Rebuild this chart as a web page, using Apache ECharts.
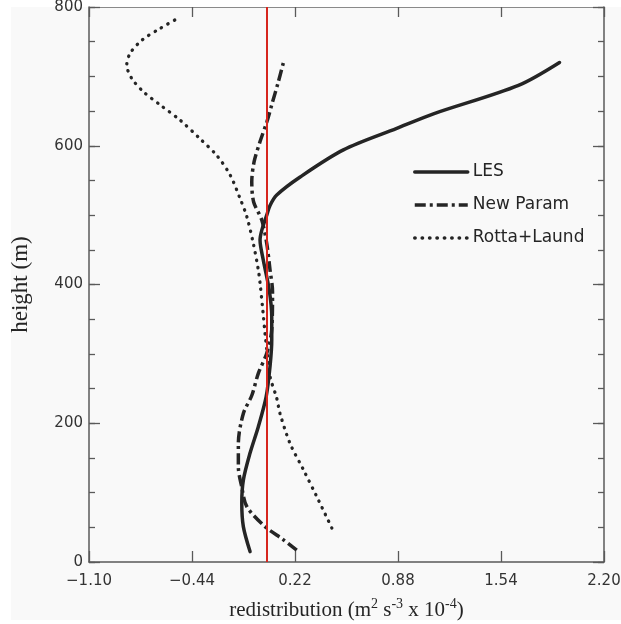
<!DOCTYPE html>
<html>
<head>
<meta charset="utf-8">
<script src="https://cdn.jsdelivr.net/npm/echarts@6/dist/echarts.min.js"></script>
<style>
  html, body { margin: 0; padding: 0; background: #ffffff; }
  #chart { width: 621px; height: 624px; }
</style>
</head>
<body>
<div id="chart"></div>
<script>
// Pressure redistribution profiles (x: m^2 s^-3 x 10^-4, y: height in m)
const heightLES = [15, 51, 85, 118, 157, 195, 238, 282, 320, 353, 392, 435, 464, 478, 500, 514, 529, 555, 594, 625, 646, 687, 720];
const valueLES  = [-0.068, -0.111, -0.121, -0.111, -0.068, -0.015, 0.035, 0.060, 0.071, 0.071, 0.055, 0.017, -0.004, 0.007, 0.039, 0.060, 0.103, 0.253, 0.530, 0.872, 1.107, 1.652, 1.915];

const heightNew = [17, 32, 51, 80, 108, 137, 171, 214, 240, 272, 301, 335, 390, 421, 459, 493, 519, 548, 577, 606, 634, 659, 692, 720];
const valueNew  = [0.231, 0.146, 0.028, -0.089, -0.121, -0.143, -0.143, -0.111, -0.057, -0.015, 0.039, 0.071, 0.076, 0.060, 0.039, 0.007, -0.045, -0.057, -0.042, -0.004, 0.039, 0.071, 0.113, 0.146];

const heightRotta = [49, 94, 133, 171, 214, 236, 267, 296, 325, 360, 402, 421, 459, 498, 524, 558, 586, 610, 637, 659, 678, 697, 716, 733, 752, 769, 784];
const valueRotta  = [0.456, 0.360, 0.274, 0.188, 0.124, 0.103, 0.060, 0.045, 0.030, 0.015, -0.004, -0.015, -0.047, -0.089, -0.132, -0.196, -0.281, -0.388, -0.517, -0.645, -0.752, -0.826, -0.858, -0.837, -0.762, -0.645, -0.528];

const seriesNames = ['LES', 'New Param', 'Rotta+Laund'];
const xTicks = [-1.10, -0.44, 0.22, 0.88, 1.54, 2.20];
const xRange = [-1.10, 2.20];
const yRange = [0, 800];
const yStep = 200;
const yMinorStep = 50;
const refLine = 0.035;

const pairs = (xs, hs) => xs.map((v, i) => [v, hs[i]]);
const fmtX = v => (v < 0 ? '\u2212' : '') + Math.abs(v).toFixed(2);

const ink = '#252525';
const frame = '#5a5a5a';
const sans = 'DejaVu Sans';
const serif = 'Liberation Serif';

const chart = echarts.init(document.getElementById('chart'), null, { renderer: 'canvas' });

// one height axis per side with long ticks + labels, plus a tick-only axis for the 50 m marks
function heightAxis(side, major) {
  return {
    type: 'value', position: side,
    min: yRange[0], max: yRange[1], interval: major ? yStep : yMinorStep,
    axisLine: { show: major, onZero: false, lineStyle: { color: frame, width: 1.5 } },
    axisTick: { show: true, inside: true, length: major ? 11 : 6, lineStyle: { color: frame, width: 1.3 } },
    axisLabel: { show: major && side === 'left', margin: 6, fontFamily: sans, fontSize: 15, color: '#333' },
    splitLine: { show: false }
  };
}

const leftMain = Object.assign(heightAxis('left', true), {
  name: 'height (m)', nameLocation: 'middle', nameGap: 57, nameRotate: 90,
  nameTextStyle: { fontFamily: serif, fontSize: 23, color: ink }
});

chart.setOption({
  backgroundColor: '#ffffff',
  animation: false,
  graphic: [{
    type: 'rect', z: -10, silent: true,
    shape: { x: 11, y: 7, width: 610, height: 613 },
    style: { fill: '#f9f9f9' }
  }],
  grid: { left: 89, right: 17, top: 7, bottom: 62, containLabel: false, outerBoundsMode: 'none' },
  legend: {
    data: seriesNames,
    orient: 'vertical',
    left: 413, top: 163,
    padding: 0,
    itemWidth: 53, itemHeight: 14, itemGap: 15,
    lineStyle: { width: 3.5 },
    itemStyle: { opacity: 0, color: 'rgba(0,0,0,0)', borderWidth: 0 },
    textStyle: { fontFamily: sans, fontSize: 17, color: ink, lineHeight: 18 }
  },
  xAxis: [{
    type: 'value', position: 'bottom',
    min: xRange[0], max: xRange[1],
    axisLine: { show: true, onZero: false, lineStyle: { color: frame, width: 1.5 } },
    axisTick: { show: true, inside: true, length: 11, customValues: xTicks, lineStyle: { color: frame, width: 1.3 } },
    axisLabel: { show: true, customValues: xTicks, margin: 12, formatter: fmtX, fontFamily: sans, fontSize: 15, color: '#333' },
    splitLine: { show: false },
    name: '{b|redistribution (m}{p|2}{b| s}{p|-3}{b| x 10}{p|-4}{b|)}',
    nameLocation: 'middle', nameGap: 35,
    nameTextStyle: {
      rich: {
        b: { fontFamily: serif, fontSize: 21, color: ink, lineHeight: 24, verticalAlign: 'bottom' },
        p: { fontFamily: serif, fontSize: 14, color: ink, lineHeight: 14, verticalAlign: 'top' }
      }
    }
  }, {
    type: 'value', position: 'top',
    min: xRange[0], max: xRange[1],
    axisLine: { show: true, onZero: false, lineStyle: { color: '#8a8a8a', width: 1.2 } },
    axisTick: { show: true, inside: true, length: 10, customValues: xTicks, lineStyle: { color: frame, width: 1.3 } },
    axisLabel: { show: false },
    splitLine: { show: false }
  }],
  yAxis: [leftMain, heightAxis('left', false), heightAxis('right', true), heightAxis('right', false)],
  series: [{
    name: 'LES', type: 'line',
    data: pairs(valueLES, heightLES),
    smooth: 0.3, symbol: 'none', showSymbol: false,
    lineStyle: { color: ink, width: 3.5, type: 'solid', cap: 'round', join: 'round' },
    itemStyle: { color: ink }, z: 3
  }, {
    name: 'New Param', type: 'line',
    data: pairs(valueNew, heightNew),
    smooth: 0.3, symbol: 'none', showSymbol: false,
    lineStyle: { color: ink, width: 3.5, type: [11, 4, 3, 4], cap: 'butt' },
    itemStyle: { color: ink }, z: 3
  }, {
    name: 'Rotta+Laund', type: 'line',
    data: pairs(valueRotta, heightRotta),
    smooth: 0.3, symbol: 'none', showSymbol: false,
    lineStyle: { color: ink, width: 3.3, type: [0.4, 7], cap: 'round' },
    itemStyle: { color: ink }, z: 3
  }, {
    name: 'reference', type: 'line', data: [], symbol: 'none', z: 4,
    markLine: {
      silent: true, symbol: ['none', 'none'], label: { show: false },
      lineStyle: { color: '#d7261e', width: 2, type: 'solid' },
      data: [{ xAxis: refLine }]
    }
  }]
});
</script>
</body>
</html>
